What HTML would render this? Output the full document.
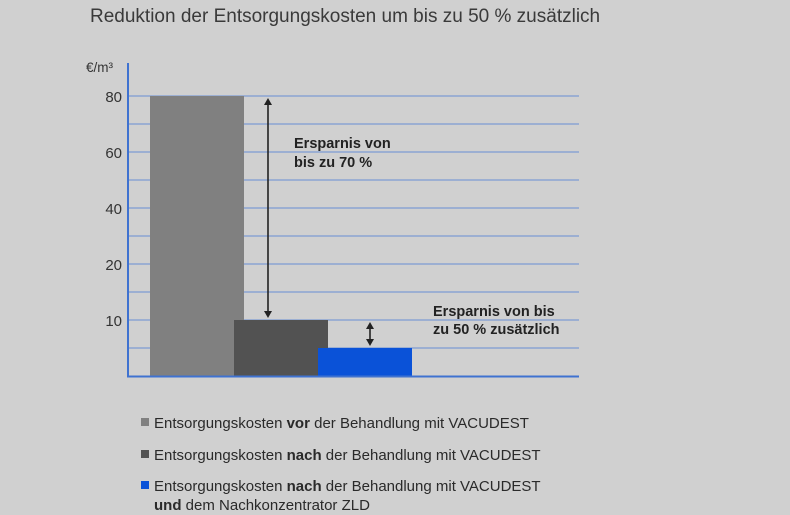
<!DOCTYPE html>
<html><head><meta charset="utf-8"><style>
body{margin:0;background:#d0d0d0;}
svg{display:block;font-family:"Liberation Sans",sans-serif;}
</style></head><body>
<svg width="790" height="515" viewBox="0 0 790 515">
<rect width="790" height="515" fill="#d0d0d0"/>
<text x="90" y="22" font-size="19" fill="#3a3a3a">Reduktion der Entsorgungskosten um bis zu 50 % zusätzlich</text>
<text x="86" y="72" font-size="13.5" fill="#333">€/m³</text>
<g id="grid"></g><g id="bars"></g><g id="ticks"></g>
<line x1="128" y1="63" x2="128" y2="377" stroke="#3f72d0" stroke-width="2"/>
<line x1="127" y1="376.5" x2="579" y2="376.5" stroke="#3f72d0" stroke-width="2"/>
<g id="arrows"></g>
<text font-size="14.5" font-weight="bold" fill="#222"><tspan x="294" y="148">Ersparnis von</tspan><tspan x="294" y="167">bis zu 70 %</tspan></text>
<text font-size="14.5" font-weight="bold" fill="#222"><tspan x="433" y="316">Ersparnis von bis</tspan><tspan x="433" y="334">zu 50 % zusätzlich</tspan></text>
<g font-size="15" fill="#2a2a2a">
<rect x="141" y="418" width="8" height="8" fill="#808080"/>
<text x="154" y="428">Entsorgungskosten <tspan font-weight="bold">vor</tspan> der Behandlung mit VACUDEST</text>
<rect x="141" y="450" width="8" height="8" fill="#525252"/>
<text x="154" y="460">Entsorgungskosten <tspan font-weight="bold">nach</tspan> der Behandlung mit VACUDEST</text>
<rect x="141" y="481" width="8" height="8" fill="#0a52d8"/>
<text x="154" y="491">Entsorgungskosten <tspan font-weight="bold">nach</tspan> der Behandlung mit VACUDEST</text>
<text x="154" y="510"><tspan font-weight="bold">und</tspan> dem Nachkonzentrator ZLD</text>
</g>
</svg>
<script>
const tickValues=[0,10,20,40,60,80];
const tickLabels=["","10","20","40","60","80"];
const categories=["vor","nach","nach-zld"];
const values=[80,10,5];
const colors=["#808080","#525252","#0a52d8"];
const NS="http://www.w3.org/2000/svg";
const y0=376,step=56;
function y(v){
  for(let i=0;i<tickValues.length-1;i++){
    const a=tickValues[i],b=tickValues[i+1];
    if(v<=b){return y0-step*(i+(v-a)/(b-a));}
  }
  return y0-step*(tickValues.length-1);
}
function x(i){return 150+i*84;}
const grid=document.getElementById('grid');
for(let k=1;k<=2*(tickValues.length-1);k++){
  const l=document.createElementNS(NS,'line');
  const yy=y0-k*step/2;
  l.setAttribute('x1',128);l.setAttribute('x2',579);l.setAttribute('y1',yy);l.setAttribute('y2',yy);
  l.setAttribute('stroke','#7d9bd4');l.setAttribute('stroke-width','1.2');
  
  
  grid.appendChild(l);
}
const tk=document.getElementById('ticks');
tickValues.forEach((v,i)=>{
  if(!tickLabels[i])return;
  const t=document.createElementNS(NS,'text');
  t.setAttribute('x',122);t.setAttribute('y',y(v)+6);t.setAttribute('text-anchor','end');
  t.setAttribute('font-size','15');t.setAttribute('fill','#333');
  t.textContent=tickLabels[i];
  
  
  tk.appendChild(t);
});
const bars=document.getElementById('bars');
values.forEach((v,i)=>{
  const r=document.createElementNS(NS,'rect');
  r.setAttribute('x',x(i));r.setAttribute('width',94);
  r.setAttribute('y',y(v));r.setAttribute('height',y0-y(v));
  r.setAttribute('fill',colors[i]);
  
  
  bars.appendChild(r);
});
const ar=document.getElementById('arrows');
function arrow(xx,v1,v2,name){
  const g=document.createElementNS(NS,'g');
  
  
  const a=y(v1)+2,b=y(v2)-2;
  g.innerHTML=`<line x1="${xx}" x2="${xx}" y1="${a+4}" y2="${b-4}" stroke="#222" stroke-width="1.6"/>
  <polygon points="${xx-4},${a+7} ${xx},${a} ${xx+4},${a+7}" fill="#222"/>
  <polygon points="${xx-4},${b-7} ${xx},${b} ${xx+4},${b-7}" fill="#222"/>`;
  ar.appendChild(g);
}
arrow(268,values[0],values[1],'savings-arrow-70');
arrow(370,values[1],values[2],'savings-arrow-50');
</script>
</body></html>
